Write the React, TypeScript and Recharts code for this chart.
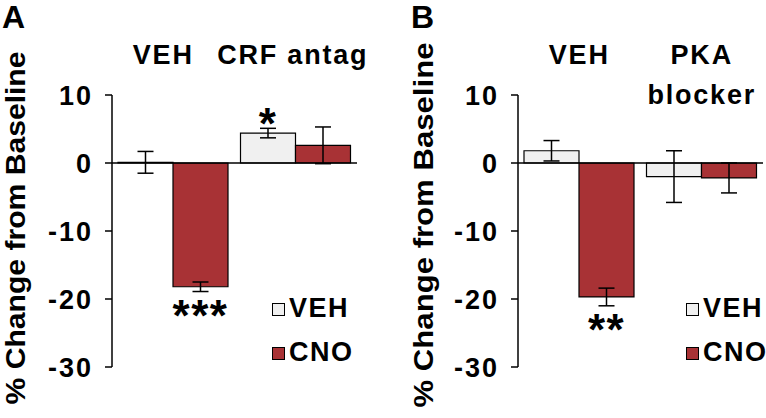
import React from "react";
import {
  BarChart,
  Bar,
  XAxis,
  YAxis,
  ReferenceLine,
  ErrorBar,
  LabelList,
  Legend,
} from "recharts";

const FONT = "'Liberation Sans', Arial, sans-serif";
const VEH_COLOR = "#f0f0f0";
const CNO_COLOR = "#a83235";
const SERIES = ["VEH", "CNO"];

// Panel A
const groupsA = [["VEH"], ["CRF antag"]];
const vehA = [0.1, 4.4];
const vehErrA = [1.6, 0.7];
const cnoA = [-18.2, 2.6];
const cnoErrA = [0.7, 2.7];
const vehSigA = ["", "*"];
const cnoSigA = ["***", ""];

// Panel B
const groupsB = [["VEH"], ["PKA", "blocker"]];
const vehB = [1.8, -2.0];
const vehErrB = [1.5, 3.8];
const cnoB = [-19.7, -2.2];
const cnoErrB = [1.3, 2.2];
const vehSigB = ["", ""];
const cnoSigB = ["**", ""];

const yTicks = [10, 0, -10, -20, -30];
const yLabel = "% Change from Baseline";

interface PanelProps {
  letter: string;
  groups: string[][];
  veh: number[];
  vehErr: number[];
  cno: number[];
  cnoErr: number[];
  vehSig: string[];
  cnoSig: string[];
  left: number;
  axisX: number;
  marginRight: number;
  labelX: number;
  labelY: number;
  labelLen: number;
  letterX: number;
  legendX: number;
  groupShift: number[];
}

// value passed in is the whole data row (dataKey is a function)
const sigLabel = (key: "veh" | "cno") => (props: any) => {
  const { x, y, width, height, value } = props;
  if (!value || typeof value !== "object") return null;
  const sig = value[key + "Sig"];
  if (!sig) return null;
  const v = value[key];
  const err = value[key + "Err"];
  const ppu = Math.abs(height) / Math.abs(v);
  const top = Math.min(y, y + height);
  const bottom = Math.max(y, y + height);
  const ty = v >= 0 ? top - err * ppu + 11 : bottom + err * ppu + 39;
  return (
    <text
      x={x + width / 2}
      y={ty}
      textAnchor="middle"
      fontSize={44}
      fontWeight="bold"
      fontFamily={FONT}
      letterSpacing={1.5}
      fill="#000"
    >
      {sig}
    </text>
  );
};

const LegendBox = ({ payload }: any) => {
  const items = [...(payload || [])].sort(
    (a: any, b: any) => SERIES.indexOf(a.value) - SERIES.indexOf(b.value)
  );
  return (
    <div style={{ fontFamily: FONT }}>
      {items.map((entry: any) => (
        <div
          key={entry.value}
          style={{ display: "flex", alignItems: "center", height: 44 }}
        >
          <span
            style={{
              width: 11,
              height: 11,
              border: "1px solid #000",
              background: entry.color,
              marginRight: 4,
              marginTop: 3,
            }}
          />
          <span
            style={{ fontSize: 27, fontWeight: "bold", letterSpacing: 1.5 }}
          >
            {entry.value}
          </span>
        </div>
      ))}
    </div>
  );
};

const Panel: React.FC<PanelProps> = (p) => {
  const data = p.groups.map((g, i) => ({
    name: g.join(" "),
    veh: p.veh[i],
    vehErr: p.vehErr[i],
    vehSig: p.vehSig[i],
    cno: p.cno[i],
    cnoErr: p.cnoErr[i],
    cnoSig: p.cnoSig[i],
  }));

  const renderTick = (props: any) => {
    const { x, y, index } = props;
    const lines = p.groups[index] || [];
    return (
      <g>
        {lines.map((line, li) => (
          <text
            key={li}
            x={x + p.groupShift[index]}
            y={y - 31 + li * 40}
            textAnchor="middle"
            fontSize={27}
            fontWeight="bold"
            fontFamily={FONT}
            letterSpacing={1.8}
            fill="#000"
          >
            {line}
          </text>
        ))}
      </g>
    );
  };

  return (
    <div
      style={{
        position: "absolute",
        left: p.left,
        top: 0,
        width: 383,
        height: 418,
      }}
    >
      <BarChart
        width={383}
        height={418}
        data={data}
        margin={{ top: 0, right: p.marginRight, bottom: 51, left: 0 }}
        barCategoryGap={6}
        barGap={0}
      >
        <XAxis
          dataKey="name"
          orientation="top"
          height={95}
          axisLine={false}
          tickLine={false}
          tickSize={0}
          tickMargin={0}
          interval={0}
          tick={renderTick}
        />
        <YAxis
          width={p.axisX}
          domain={[-30, 10]}
          ticks={yTicks}
          interval={0}
          axisLine={{ stroke: "#000", strokeWidth: 1.5 }}
          tickLine={{ stroke: "#000", strokeWidth: 1.5 }}
          tickSize={7}
          tickMargin={12}
          tick={{
            fill: "#000",
            fontSize: 27,
            fontWeight: "bold",
            fontFamily: FONT,
            letterSpacing: 2,
          }}
        />
        <ReferenceLine y={0} stroke="#000" strokeWidth={1.5} />
        <Bar
          dataKey="veh"
          name="VEH"
          fill={VEH_COLOR}
          stroke="#000"
          strokeWidth={1.2}
          isAnimationActive={false}
        >
          <ErrorBar
            dataKey="vehErr"
            width={8}
            stroke="#000"
            strokeWidth={1.5}
            direction="y"
          />
          <LabelList dataKey={(d: any) => d} content={sigLabel("veh")} />
        </Bar>
        <Bar
          dataKey="cno"
          name="CNO"
          fill={CNO_COLOR}
          stroke="#000"
          strokeWidth={1.2}
          isAnimationActive={false}
        >
          <ErrorBar
            dataKey="cnoErr"
            width={8}
            stroke="#000"
            strokeWidth={1.5}
            direction="y"
          />
          <LabelList dataKey={(d: any) => d} content={sigLabel("cno")} />
        </Bar>
        <Legend
          layout="vertical"
          align="center"
          verticalAlign="middle"
          content={<LegendBox />}
          wrapperStyle={{ left: p.legendX, top: 286, width: "auto" }}
        />
      </BarChart>
      <svg
        width={383}
        height={418}
        style={{ position: "absolute", left: 0, top: 0, pointerEvents: "none" }}
      >
        <text
          x={p.letterX}
          y={28}
          fontSize={32}
          fontWeight="bold"
          fontFamily={FONT}
          fill="#000"
        >
          {p.letter}
        </text>
        <text
          transform={`translate(${p.labelX},${p.labelY}) rotate(-90)`}
          textAnchor="middle"
          fontSize={28}
          fontWeight="bold"
          fontFamily={FONT}
          textLength={p.labelLen}
          lengthAdjust="spacingAndGlyphs"
          fill="#000"
        >
          {yLabel}
        </text>
      </svg>
    </div>
  );
};

export default function App() {
  return (
    <div
      style={{
        position: "absolute",
        left: 0,
        top: 0,
        width: 766,
        height: 418,
        background: "#fff",
      }}
    >
      <Panel
        letter="A"
        groups={groupsA}
        veh={vehA}
        vehErr={vehErrA}
        cno={cnoA}
        cnoErr={cnoErrA}
        vehSig={vehSigA}
        cnoSig={cnoSigA}
        left={0}
        axisX={112}
        marginRight={26}
        labelX={25}
        labelY={228}
        labelLen={353}
        letterX={2}
        legendX={272}
        groupShift={[-10, -3]}
      />
      <Panel
        letter="B"
        groups={groupsB}
        veh={vehB}
        vehErr={vehErrB}
        cno={cnoB}
        cnoErr={cnoErrB}
        vehSig={vehSigB}
        cnoSig={cnoSigB}
        left={383}
        axisX={135}
        marginRight={3}
        labelX={50}
        labelY={225}
        labelLen={365}
        letterX={28}
        legendX={303}
        groupShift={[0, 0]}
      />
    </div>
  );
}
